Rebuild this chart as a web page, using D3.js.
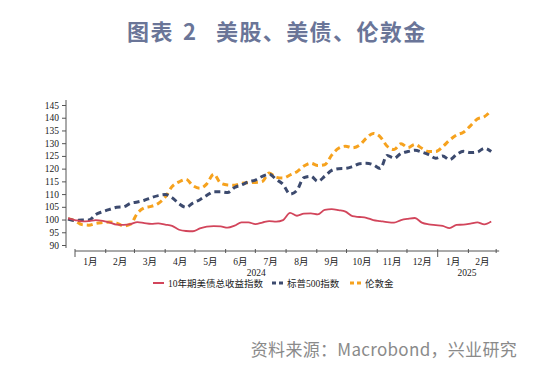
<!DOCTYPE html>
<html>
<head>
<meta charset="utf-8">
<script src="https://cdn.jsdelivr.net/npm/d3@7"></script>
<style>
  body { margin: 0; background: #fff; }
  svg { display: block; }
</style>
</head>
<body>
<svg id="chart" width="550" height="369"></svg>
<script>
// weekly observations, index = 100 at start
var startDate = "2023-12-25";
var weeks = 62;
var bondIdx = [100.5, 99.8, 99.3, 99.4, 99.8, 99.5, 98.8, 98.0, 97.9, 98.2,
  99.0, 98.6, 98.3, 98.5, 98.0, 97.5, 96.0, 95.5, 95.4, 96.5,
  97.2, 97.4, 97.3, 96.8, 97.6, 98.9, 98.9, 98.2, 98.8, 99.4,
  99.2, 99.8, 102.6, 101.5, 102.3, 102.4, 102.0, 103.8, 104.1, 103.7,
  103.1, 101.3, 101.0, 100.7, 99.8, 99.4, 99.0, 98.8, 99.8, 100.3,
  100.6, 98.8, 98.1, 97.8, 97.5, 96.6, 97.9, 98.0, 98.4, 98.9,
  98.1, 99.2];
var spxIdx = [100.2, 99.6, 99.8, 99.8, 102.0, 103.1, 104.0, 104.8, 105.0, 106.4,
  106.9, 107.6, 108.6, 109.4, 109.8, 108.6, 106.2, 104.8, 106.5, 107.8,
  109.5, 110.9, 110.9, 110.6, 112.6, 113.6, 114.8, 115.5, 117.0, 117.8,
  115.8, 113.8, 110.0, 111.5, 116.5, 117.0, 115.0, 117.0, 119.3, 120.0,
  120.1, 120.8, 121.9, 122.1, 121.5, 120.1, 125.2, 124.1, 126.0, 126.7,
  127.2, 126.5, 125.5, 124.1, 125.0, 123.5, 125.5, 126.8, 126.3, 126.5,
  128.0, 126.7];
var goldIdx = [100.3, 99.5, 98.0, 97.8, 98.5, 98.8, 99.0, 98.6, 97.5, 98.2,
  102.5, 104.6, 105.2, 106.3, 108.8, 113.0, 114.8, 115.8, 113.3, 112.3,
  114.0, 117.8, 114.3, 113.6, 113.5, 114.2, 114.5, 114.6, 115.0, 118.3,
  116.6, 116.3, 117.5, 118.8, 121.0, 122.1, 121.2, 121.5, 125.3, 128.0,
  128.8, 128.2, 129.2, 132.0, 133.8, 132.5, 128.8, 127.5, 129.8, 128.3,
  129.5, 128.0, 126.7, 126.7, 128.6, 131.2, 133.2, 134.3, 136.8, 139.5,
  140.4, 142.8];
var yTicks = [90, 95, 100, 105, 110, 115, 120, 125, 130, 135, 140, 145];
var monthLabels = ["1月", "2月", "3月", "4月", "5月", "6月", "7月", "8月", "9月", "10月", "11月", "12月", "1月", "2月"];
var yearLabels = ["2024", "2025"];
var seriesNames = ["10年期美债总收益指数", "标普500指数", "伦敦金"];
var colors = ["#d2455b", "#3c4a6e", "#f6a21e"];

var parse = d3.timeParse("%Y-%m-%d");
var t0 = parse(startDate);
var dates = d3.range(weeks).map(function(i) { return d3.timeDay.offset(t0, i * 7); });

var svg = d3.select("#chart");

// title in three pieces to keep the wide gaps
var title = svg.append("text")
  .attr("y", 40)
  .attr("font-family", "'Noto Sans CJK SC', sans-serif")
  .attr("font-weight", "bold")
  .attr("font-size", 22)
  .attr("letter-spacing", 1.4)
  .attr("fill", "#6a7598");
title.append("tspan").attr("x", 127).text("图表");
title.append("tspan").attr("x", 183).text("2");
title.append("tspan").attr("x", 216).text("美股、美债、伦敦金");

svg.append("text")
  .attr("x", 517).attr("y", 356)
  .attr("text-anchor", "end")
  .attr("font-family", "'Noto Sans CJK SC', sans-serif")
  .attr("font-size", 17)
  .attr("letter-spacing", 0.3)
  .attr("fill", "#8a8a8a")
  .text("资料来源：Macrobond，兴业研究");

var x = d3.scaleTime()
  .domain([parse("2024-01-01"), parse("2025-01-01")])
  .range([75, 437.7]);
var y = d3.scaleLinear().domain([90, 145]).range([245, 105]);

var tickFont = "'Liberation Serif', 'Noto Sans CJK SC', serif";

// y axis
var yAxis = svg.append("g")
  .attr("transform", "translate(66,0)")
  .call(d3.axisLeft(y).tickValues(yTicks).tickSize(4).tickPadding(3));
yAxis.select(".domain").attr("d", "M0,100V248").attr("stroke", "#555");
yAxis.selectAll(".tick line").attr("stroke", "#555");
yAxis.selectAll("text").attr("font-family", tickFont).attr("font-size", 9.5).attr("fill", "#222");

// x axis
var monthStarts = d3.timeMonth.range(parse("2024-01-01"), parse("2025-03-02"));
var xg = svg.append("g").attr("transform", "translate(0,251)");
xg.append("line")
  .attr("x1", x(monthStarts[0])).attr("x2", x(monthStarts[monthStarts.length - 1]) + 3)
  .attr("stroke", "#555");
xg.selectAll(".mt").data(monthStarts).enter().append("line")
  .attr("x1", function(d) { return x(d); }).attr("x2", function(d) { return x(d); })
  .attr("y1", -2)
  .attr("y2", function(d) { return d.getMonth() === 0 ? 6 : 2; })
  .attr("stroke", "#555");
xg.selectAll(".ml").data(monthLabels).enter().append("text")
  .attr("x", function(d, i) {
    return (x(monthStarts[i]) + x(monthStarts[i + 1])) / 2;
  })
  .attr("y", 14)
  .attr("text-anchor", "middle")
  .attr("font-family", tickFont).attr("font-size", 9.5).attr("fill", "#222")
  .text(function(d) { return d; });
xg.selectAll(".yl").data(yearLabels).enter().append("text")
  .attr("x", function(d, i) {
    var a = i === 0 ? monthStarts[0] : monthStarts[12];
    var b = i === 0 ? monthStarts[12] : monthStarts[14];
    return (x(a) + x(b)) / 2;
  })
  .attr("y", 25)
  .attr("text-anchor", "middle")
  .attr("font-family", tickFont).attr("font-size", 9.5).attr("fill", "#222")
  .text(function(d) { return d; });

// lines
var line = d3.line()
  .x(function(d) { return x(d[0]); })
  .y(function(d) { return y(d[1]); })
  .curve(d3.curveMonotoneX);

var all = [bondIdx, spxIdx, goldIdx];
var widths = [1.8, 3, 3];
var dashes = [null, "6,4", "6,4"];
[2, 1, 0].forEach(function(s) {
  svg.append("path")
    .datum(dates.map(function(d, i) { return [d, all[s][i]]; }))
    .attr("d", line)
    .attr("fill", "none")
    .attr("stroke", colors[s])
    .attr("stroke-width", widths[s])
    .attr("stroke-dasharray", dashes[s]);
});

// legend
var legX = [153, 272, 350];
var lg = svg.append("g").attr("transform", "translate(0,283)");
seriesNames.forEach(function(name, i) {
  lg.append("line")
    .attr("x1", legX[i]).attr("x2", legX[i] + 11)
    .attr("stroke", colors[i])
    .attr("stroke-width", i === 0 ? 2 : 3)
    .attr("stroke-dasharray", i === 0 ? null : "4,3");
  lg.append("text")
    .attr("x", legX[i] + 15).attr("y", 3.5)
    .attr("font-family", tickFont).attr("font-size", 9.5).attr("fill", "#222")
    .text(name);
});
</script>
</body>
</html>
